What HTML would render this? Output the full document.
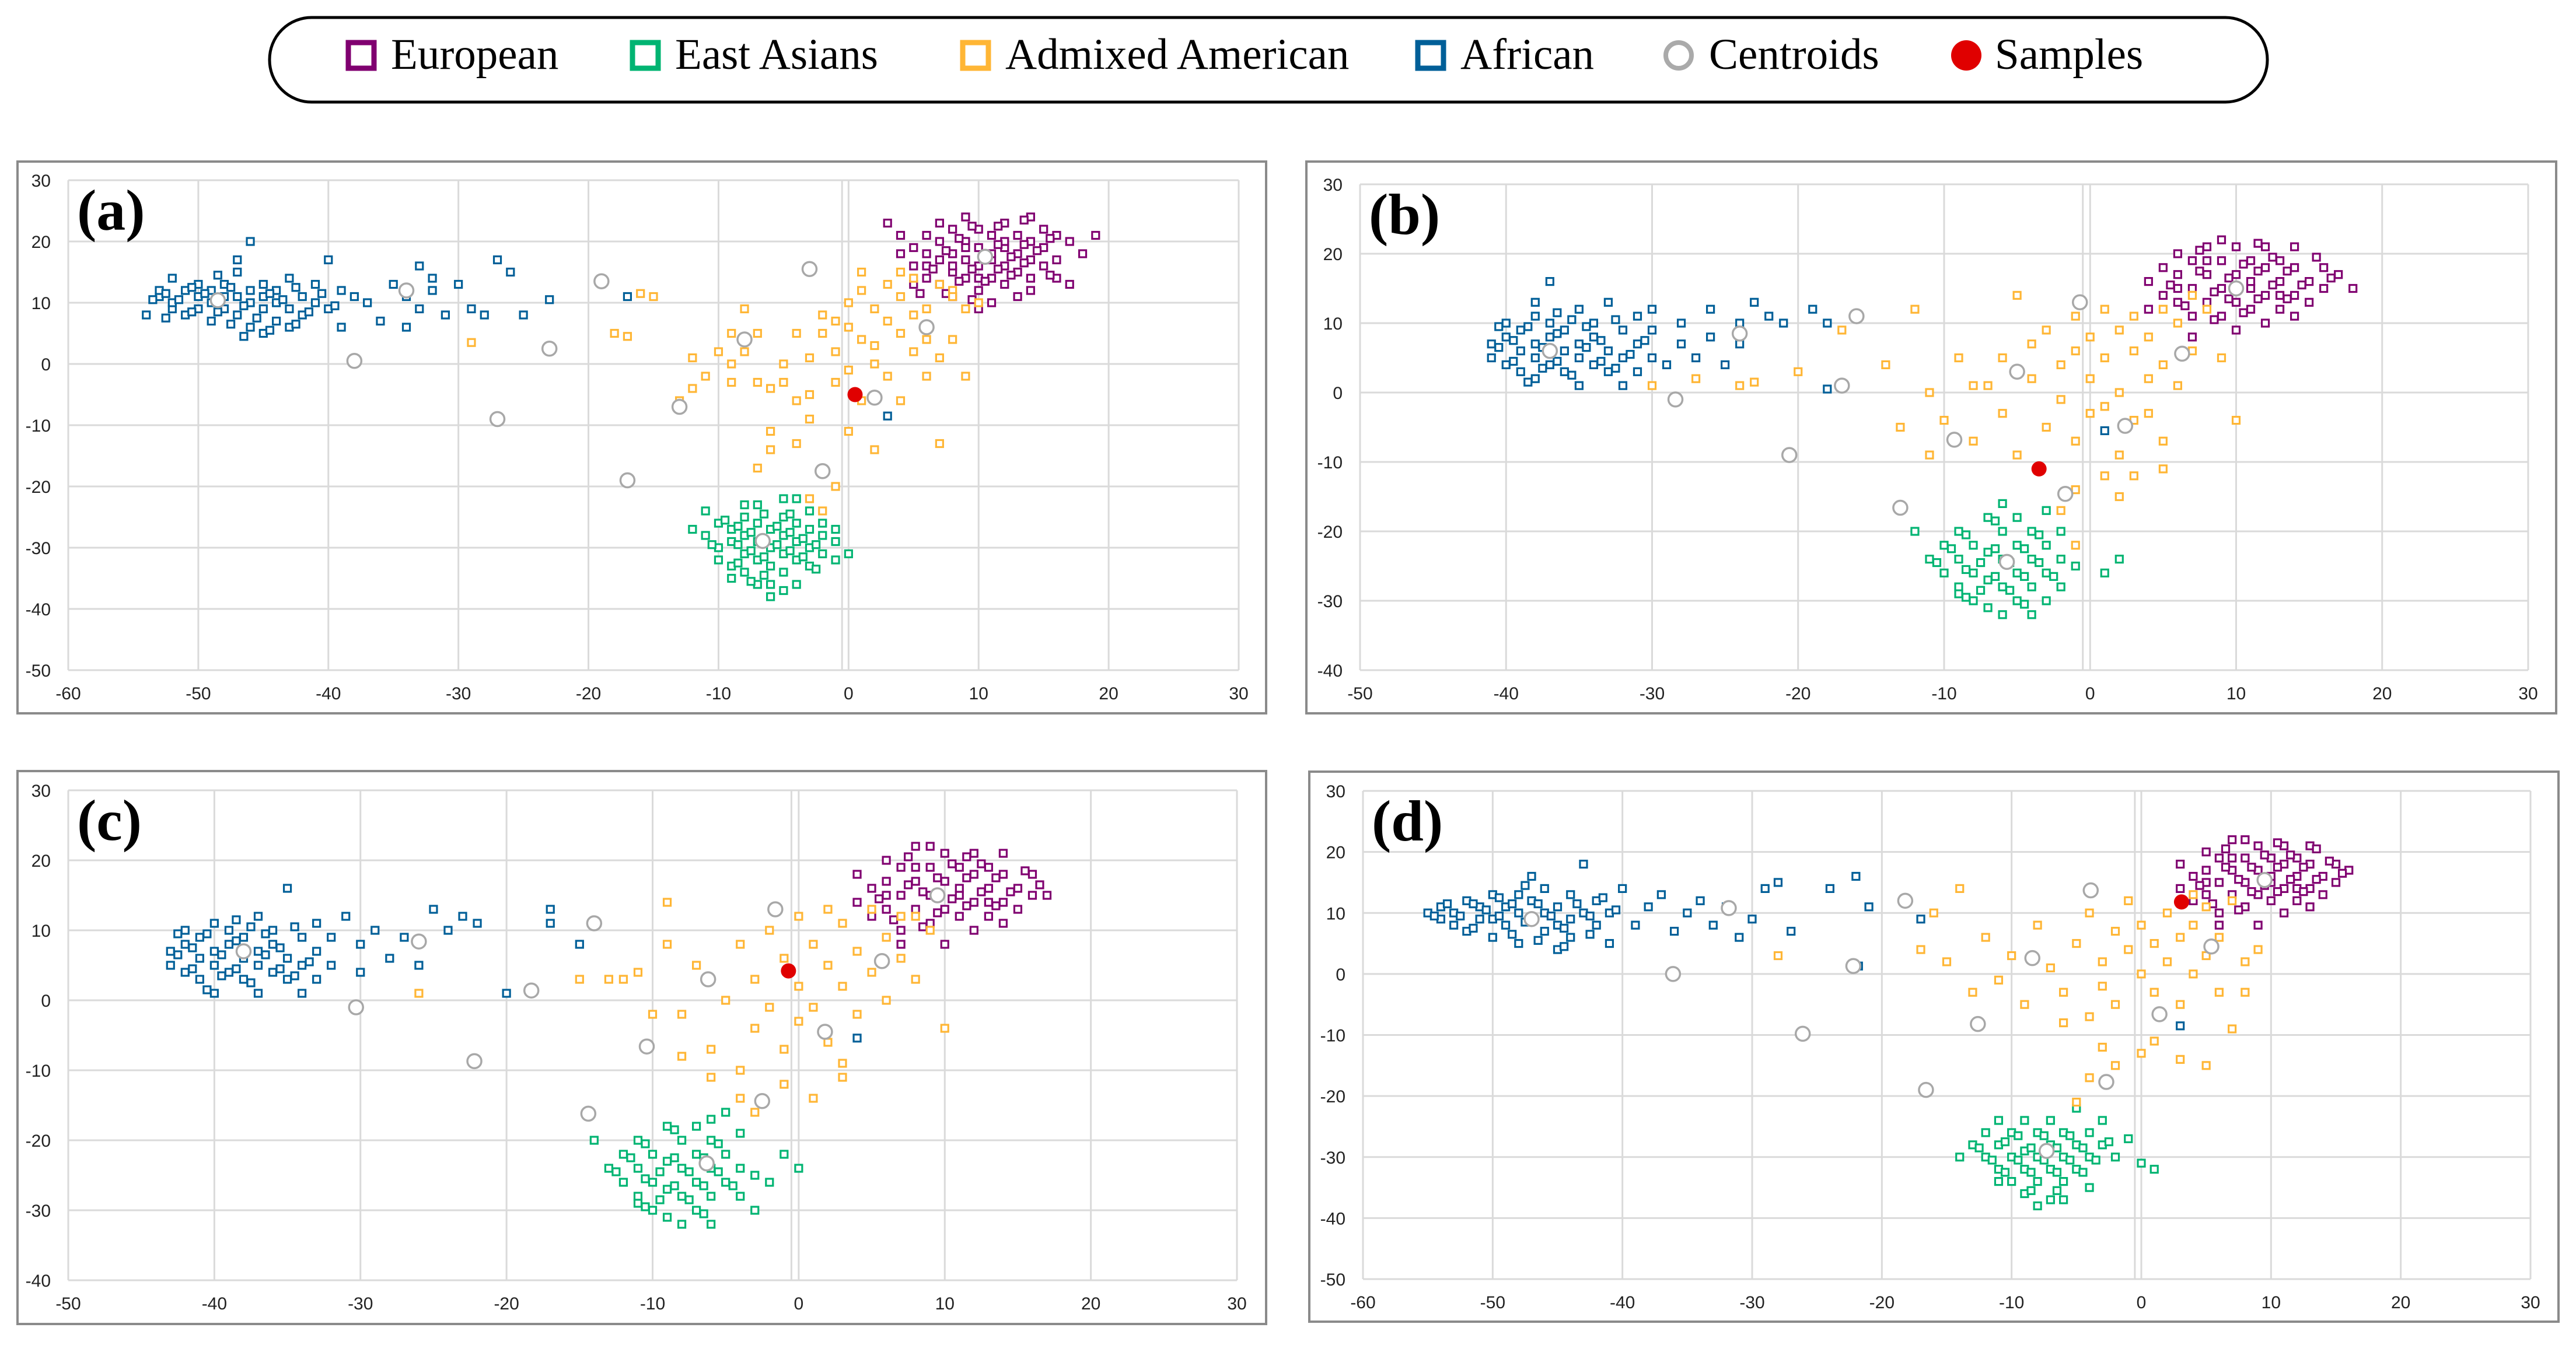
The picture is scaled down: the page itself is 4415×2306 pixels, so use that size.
<!DOCTYPE html>
<html><head><meta charset="utf-8">
<style>
html,body{margin:0;padding:0;background:#fff;}
svg{display:block;}
</style></head>
<body>
<svg id="fig" width="4415" height="2306" viewBox="0 0 4415 2306" xmlns="http://www.w3.org/2000/svg">
<g>
<rect x="462" y="30" width="3424" height="145" rx="72" ry="72" fill="#fff" stroke="#000" stroke-width="5"/>
<g><rect x="597" y="73" width="44" height="44" fill="none" stroke="#800070" stroke-width="9"/><text x="670" y="118" font-family="Liberation Serif, serif" font-size="75">European</text></g>
<g><rect x="1084" y="73" width="44" height="44" fill="none" stroke="#00B472" stroke-width="9"/><text x="1157" y="118" font-family="Liberation Serif, serif" font-size="75">East Asians</text></g>
<g><rect x="1650" y="73" width="44" height="44" fill="none" stroke="#FFB635" stroke-width="9"/><text x="1723" y="118" font-family="Liberation Serif, serif" font-size="75">Admixed American</text></g>
<g><rect x="2430" y="73" width="44" height="44" fill="none" stroke="#005F98" stroke-width="9"/><text x="2503" y="118" font-family="Liberation Serif, serif" font-size="75">African</text></g>
<g><circle cx="2877" cy="95" r="22" fill="#fff" stroke="#aaa" stroke-width="8"/><text x="2929" y="118" font-family="Liberation Serif, serif" font-size="75">Centroids</text></g>
<g><circle cx="3370" cy="95" r="26" fill="#E00000"/><text x="3419" y="118" font-family="Liberation Serif, serif" font-size="75">Samples</text></g>
</g>
</svg>
<script>
// ---------- Panel (a) data ----------
const aAfr=[[-54,8],[-53,11],[-53,12],[-52,9],[-52,10],[-52,14],[-51,12],[-51,8],[-50,11],[-50,9],[-50,13],[-49,10],[-49,12],[-49,7],[-48,11],[-48,9],[-48,13],[-47,8],[-47,11],[-47,15],[-47,17],[-46,10],[-46,12],[-46,6],[-46,20],[-45,9],[-45,11],[-45,13],[-45,5],[-44,10],[-44,7],[-44,12],[-43,9],[-43,14],[-43,6],[-42,11],[-42,8],[-41,10],[-41,13],[-40,9],[-40,17],[-39,12],[-39,6],[-38,11],[-37,10],[-36,7],[-35,13],[-34,11],[-34,6],[-33,16],[-33,9],[-32,14],[-32,12],[-31,8],[-30,13],[-29,9],[-28,8],[-27,17],[-26,15],[-25,8],[-23,10.5],[-17,11],[3,-8.5]];
const aAfr2=[[-53.5,10.5],[-52.5,11.5],[-51.5,10.5],[-50.5,8.5],[-49.5,11.5],[-48.5,8.5],[-47.5,12.5],[-46.5,9.5],[-45.5,7.5],[-44.5,11.5],[-43.5,10.5],[-42.5,12.5],[-41.5,8.5],[-50.5,12.5],[-48.5,14.5],[-46.5,4.5],[-44.5,5.5],[-42.5,6.5],[-40.5,11.5],[-39.5,9.5],[-47.5,6.5],[-52.5,7.5]];
const aEur=[[3,23],[4,21],[5,16],[5,19],[6,14],[6,18],[6,21],[7,13],[7,17],[7,20],[7,23],[8,15],[8,18],[8,22],[8,11],[9,14],[9,17],[9,20],[9,24],[10,12],[10,16],[10,19],[10,22],[11,14],[11,17],[11,21],[11,10],[12,13],[12,16],[12,19],[12,23],[13,15],[13,18],[13,21],[14,14],[14,17],[14,20],[14,24],[15,16],[15,19],[15,22],[16,17],[16,14],[17,20],[18,18],[19,21],[17,13],[13,11],[10,9],[5,13],[4,18],[12,20],[9,19],[11,18],[8,16],[10,14],[6,16],[14,12],[16,21]];
const aEur2=[[6.5,15.5],[7.5,18.5],[8.5,13.5],[8.5,20.5],[9.5,15.5],[9.5,22.5],[10.5,17.5],[10.5,13.5],[11.5,15.5],[11.5,19.5],[12.5,17.5],[12.5,14.5],[13.5,19.5],[13.5,16.5],[14.5,18.5],[15.5,14.5],[7.5,11.5],[9.5,10.5],[11.5,22.5],[13.5,23.5],[15.5,20.5],[5.5,11.5]];
const aEas=[[-11,-24],[-11,-28],[-10,-26],[-10,-30],[-10,-32],[-9,-27],[-9,-29],[-9,-33],[-8,-25],[-8,-28],[-8,-31],[-8,-34],[-7,-26],[-7,-29],[-7,-32],[-7,-36],[-7,-23],[-6,-27],[-6,-30],[-6,-33],[-6,-38],[-5,-25],[-5,-28],[-5,-31],[-5,-34],[-5,-22],[-4,-26],[-4,-29],[-4,-32],[-4,-36],[-3,-24],[-3,-27],[-3,-30],[-3,-33],[-2,-28],[-2,-31],[-1,-29],[-1,-32],[-2,-26],[-12,-27],[-9,-35],[-6,-36],[-4,-22],[0,-31],[-1,-27],[-8,-23],[-5,-37]];
const aEas2=[[-9.5,-25.5],[-8.5,-29.5],[-8.5,-26.5],[-7.5,-30.5],[-7.5,-27.5],[-6.5,-24.5],[-6.5,-31.5],[-5.5,-29.5],[-5.5,-26.5],[-4.5,-30.5],[-4.5,-27.5],[-3.5,-28.5],[-3.5,-31.5],[-2.5,-29.5],[-6.5,-34.5],[-8.5,-32.5],[-10.5,-29.5],[-4.5,-24.5],[-2.5,-33.5],[-7.5,-35.5]];
const aAdm=[[-29,3.5],[-18,5],[-17,4.5],[-16,11.5],[-15,11],[-12,1],[-8,9],[-8,2],[-9,0],[-7,-3],[-6,-4],[-5,-3],[-4,-6],[-3,-5],[-3,1],[-2,5],[-2,8],[-1,2],[-1,-3],[0,10],[0,6],[0,-1],[1,15],[1,12],[1,4],[1,-6],[2,9],[2,3],[3,13],[3,7],[3,-2],[4,11],[4,5],[4,-6],[5,14],[5,8],[5,2],[6,9],[6,-2],[7,13],[7,1],[8,12],[8,4],[9,9],[9,-2],[10,10],[7,-13],[-1,-20],[2,-14],[-3,-22],[-6,-11],[-4,-13],[-7,-17],[-6,-14],[-2,-24],[-11,-2],[-12,-4],[-10,2],[-9,5],[-4,5],[-5,0],[-1,7],[2,0],[6,4],[8,11],[4,15],[-7,5],[-9,-3],[-3,-9],[0,-11],[-13,-6]];
const aCen=[[-48.5,10.4],[-34,12],[-38,0.5],[-27,-9],[-23,2.5],[-19,13.5],[-17,-19],[-13,-7],[-8,4],[-3,15.5],[-2,-17.5],[2,-5.5],[6,6],[10.5,17.5],[-6.6,-28.9]];
const aSmp=[[0.5,-5]];
// ---------- Panel (b) data ----------
const bAfr=[[-41,5],[-41,7],[-40,4],[-40,8],[-40,10],[-39,3],[-39,6],[-39,9],[-38,5],[-38,7],[-38,11],[-38,2],[-37,4],[-37,8],[-37,10],[-36,6],[-36,3],[-36,9],[-35,5],[-35,7],[-35,1],[-35,12],[-34,4],[-34,8],[-34,10],[-33,6],[-33,3],[-33,13],[-32,5],[-32,9],[-32,1],[-31,7],[-31,11],[-31,3],[-30,9],[-30,5],[-30,12],[-29,4],[-28,7],[-28,10],[-27,5],[-26,8],[-26,12],[-25,4],[-24,10],[-24,7],[-23,13],[-22,11],[-21,10],[-19,12],[-18,10],[-18,0.5],[-16,11],[-37,16],[-38,13],[1,-5.5]];
const bAfr2=[[-40.5,6.5],[-39.5,7.5],[-39.5,4.5],[-38.5,9.5],[-37.5,6.5],[-37.5,3.5],[-36.5,8.5],[-36.5,4.5],[-35.5,10.5],[-35.5,2.5],[-34.5,6.5],[-34.5,9.5],[-33.5,4.5],[-33.5,7.5],[-32.5,10.5],[-32.5,3.5],[-31.5,5.5],[-38.5,1.5],[-36.5,11.5],[-40.5,9.5],[-30.5,7.5]];
const bEur=[[4,12],[4,16],[5,18],[5,14],[6,20],[6,13],[6,17],[7,15],[7,19],[7,11],[8,13],[8,17],[8,21],[9,15],[9,19],[9,11],[10,13],[10,17],[10,21],[10,9],[11,15],[11,19],[11,12],[12,14],[12,18],[12,21],[13,16],[13,12],[13,19],[14,14],[14,18],[14,21],[15,16],[15,13],[16,18],[16,15],[17,17],[18,15],[12,10],[9,22],[7,8],[11,16],[8,19],[13,14],[6,15],[14,11]];
const bEur2=[[5.5,15.5],[6.5,12.5],[7.5,17.5],[8.5,14.5],[8.5,10.5],[9.5,16.5],[9.5,13.5],[10.5,18.5],[10.5,11.5],[11.5,13.5],[11.5,17.5],[12.5,15.5],[12.5,19.5],[13.5,13.5],[13.5,17.5],[14.5,15.5],[15.5,19.5],[16.5,16.5],[7.5,20.5],[11.5,21.5]];
const bEas=[[-12,-20],[-11,-24],[-10,-22],[-10,-26],[-9,-20],[-9,-24],[-9,-28],[-8,-22],[-8,-26],[-8,-30],[-7,-18],[-7,-23],[-7,-27],[-7,-31],[-6,-20],[-6,-24],[-6,-28],[-5,-18],[-5,-22],[-5,-26],[-5,-30],[-4,-20],[-4,-24],[-4,-28],[-3,-22],[-3,-26],[-3,-17],[-2,-24],[-2,-28],[-2,-20],[-1,-25],[1,-26],[2,-24],[-6,-32],[-4,-32],[-9,-29],[-6,-16],[-3,-30]];
const bEas2=[[-9.5,-22.5],[-8.5,-25.5],[-8.5,-20.5],[-7.5,-24.5],[-7.5,-28.5],[-6.5,-22.5],[-6.5,-26.5],[-5.5,-24.5],[-5.5,-28.5],[-4.5,-22.5],[-4.5,-26.5],[-3.5,-24.5],[-3.5,-20.5],[-2.5,-26.5],[-6.5,-18.5],[-8.5,-29.5],[-4.5,-30.5],[-10.5,-24.5]];
const bAdm=[[-30,1],[-27,2],[-24,1],[-23,1.5],[-20,3],[-17,9],[-14,4],[-12,12],[-11,0],[-10,-4],[-9,5],[-8,-7],[-7,1],[-6,-3],[-5,-9],[-4,7],[-4,2],[-3,-5],[-3,9],[-2,4],[-2,-1],[-1,11],[-1,6],[-1,-7],[0,2],[0,-3],[0,8],[1,12],[1,5],[1,-2],[2,9],[2,0],[2,-9],[3,6],[3,-4],[3,11],[4,2],[4,8],[4,-3],[5,12],[5,4],[5,-7],[6,10],[6,1],[7,14],[7,6],[8,12],[9,5],[10,-4],[-1,-14],[1,-12],[3,-12],[5,-11],[-2,-17],[-1,-22],[2,-15],[-8,1],[-6,5],[-11,-9],[-13,-5],[-5,14]];
const bCen=[[-37,6],[-24,8.5],[-28.4,-1],[-17,1],[-16,11],[-20.6,-9],[-13,-16.6],[-9.3,-6.8],[-5,3],[-0.7,13],[-1.7,-14.6],[2.4,-4.8],[6.3,5.6],[10,15],[-5.7,-24.4]];
const bSmp=[[-3.5,-11]];
// ---------- Panel (c) data ----------
const cAfr=[[-43,5],[-43,7],[-42,4],[-42,8],[-42,10],[-41,3],[-41,6],[-41,9],[-40,5],[-40,7],[-40,11],[-40,1],[-39,4],[-39,8],[-39,10],[-38,6],[-38,3],[-38,9],[-37,5],[-37,7],[-37,1],[-37,12],[-36,4],[-36,8],[-36,10],[-35,6],[-35,3],[-35,16],[-34,5],[-34,9],[-34,1],[-33,7],[-33,11],[-33,3],[-32,9],[-32,5],[-31,12],[-30,4],[-30,8],[-29,10],[-28,6],[-27,9],[-26,5],[-25,13],[-24,10],[-23,12],[-22,11],[-20,1],[-17,11],[-17,13],[-15,8],[4,-5.4]];
const cAfr2=[[-42.5,6.5],[-41.5,7.5],[-41.5,4.5],[-40.5,9.5],[-39.5,6.5],[-39.5,3.5],[-38.5,8.5],[-38.5,4.5],[-37.5,10.5],[-37.5,2.5],[-36.5,6.5],[-36.5,9.5],[-35.5,4.5],[-35.5,7.5],[-34.5,10.5],[-34.5,3.5],[-33.5,5.5],[-40.5,1.5],[-38.5,11.5],[-42.5,9.5]];
const cEur=[[4,14],[4,18],[5,16],[5,12],[6,20],[6,13],[6,17],[7,15],[7,19],[7,10],[8,13],[8,17],[8,22],[9,15],[9,19],[9,11],[10,13],[10,17],[10,21],[10,8],[11,15],[11,19],[11,12],[12,14],[12,18],[12,21],[13,16],[13,12],[13,19],[14,14],[14,18],[14,21],[15,16],[15,13],[16,18],[16,15],[17,15],[12,10],[9,22],[7,8],[11,16],[8,19],[13,14],[6,15],[14,11]];
const cEur2=[[5.5,14.5],[6.5,11.5],[7.5,16.5],[8.5,15.5],[8.5,10.5],[9.5,17.5],[9.5,12.5],[10.5,19.5],[10.5,14.5],[11.5,13.5],[11.5,17.5],[12.5,15.5],[12.5,19.5],[13.5,13.5],[13.5,17.5],[14.5,15.5],[15.5,18.5],[16.5,16.5],[7.5,20.5],[11.5,20.5]];
const cEas=[[-14,-20],[-13,-24],[-12,-22],[-12,-26],[-11,-20],[-11,-24],[-11,-28],[-10,-22],[-10,-26],[-10,-30],[-9,-18],[-9,-23],[-9,-27],[-9,-31],[-8,-20],[-8,-24],[-8,-28],[-7,-18],[-7,-22],[-7,-26],[-7,-30],[-6,-20],[-6,-24],[-6,-28],[-5,-22],[-5,-26],[-5,-16],[-4,-24],[-4,-28],[-4,-19],[-3,-25],[-2,-26],[0,-24],[-8,-32],[-6,-32],[-11,-29],[-6,-17],[-3,-30],[-1,-22]];
const cEas2=[[-11.5,-22.5],[-10.5,-25.5],[-10.5,-20.5],[-9.5,-24.5],[-9.5,-28.5],[-8.5,-22.5],[-8.5,-26.5],[-7.5,-24.5],[-7.5,-28.5],[-6.5,-22.5],[-6.5,-26.5],[-5.5,-24.5],[-5.5,-20.5],[-4.5,-26.5],[-8.5,-18.5],[-10.5,-29.5],[-6.5,-30.5],[-12.5,-24.5]];
const cAdm=[[-26,1],[-15,3],[-13,3],[-12,3],[-9,8],[-9,14],[-8,-2],[-7,5],[-6,-7],[-5,0],[-4,-10],[-4,8],[-3,3],[-3,-4],[-2,10],[-2,-1],[-1,6],[-1,-7],[0,2],[0,-3],[0,12],[1,8],[1,-1],[2,5],[2,-6],[3,11],[3,2],[3,-9],[4,7],[4,-2],[5,13],[5,4],[6,9],[6,0],[7,12],[7,6],[8,3],[9,10],[10,-4],[-1,-12],[1,-14],[3,-11],[-4,-14],[-6,-11],[-8,-8],[-10,-2],[-11,4],[-3,-16],[8,12],[2,13]];
const cCen=[[-38,7],[-26,8.4],[-30.3,-1],[-22.2,-8.7],[-18.3,1.4],[-14,11],[-14.4,-16.2],[-10.4,-6.6],[-6.2,3],[-1.6,13],[-2.5,-14.4],[1.8,-4.5],[5.7,5.6],[9.5,15],[-6.3,-23.3]];
const cSmp=[[-0.7,4.2]];
// ---------- Panel (d) data ----------
const dAfr=[[-55,10],[-54,9],[-54,11],[-53,8],[-53,10],[-52,12],[-52,7],[-51,9],[-51,11],[-50,13],[-50,6],[-50,9],[-49,11],[-49,8],[-48,10],[-48,13],[-48,5],[-47,9],[-47,12],[-47,16],[-46,7],[-46,10],[-46,14],[-45,8],[-45,11],[-45,4],[-44,9],[-44,13],[-44,6],[-43,10],[-43,18],[-42,8],[-42,12],[-41,5],[-41,10],[-40,14],[-39,8],[-38,11],[-37,13],[-36,7],[-35,10],[-34,12],[-33,8],[-32,11],[-31,6],[-30,9],[-29,14],[-28,15],[-27,7],[-24,14],[-22,16],[-21,11],[-21.8,1.3],[-17,9],[3,-8.5]];
const dAfr2=[[-54.5,9.5],[-53.5,11.5],[-52.5,9.5],[-51.5,7.5],[-50.5,10.5],[-49.5,9.5],[-48.5,11.5],[-47.5,8.5],[-46.5,11.5],[-45.5,9.5],[-44.5,7.5],[-43.5,11.5],[-42.5,9.5],[-41.5,12.5],[-49.5,12.5],[-47.5,14.5],[-46.5,5.5],[-44.5,4.5],[-42.5,6.5],[-40.5,10.5],[-51.5,11.5],[-48.5,6.5]];
const dEur=[[3,14],[3,18],[4,16],[4,12],[5,20],[5,13],[5,17],[6,15],[6,19],[6,10],[7,13],[7,17],[7,22],[8,15],[8,19],[8,11],[9,13],[9,17],[9,21],[9,8],[10,15],[10,19],[10,12],[11,14],[11,18],[11,21],[12,16],[12,12],[12,19],[13,14],[13,18],[13,21],[14,16],[14,13],[15,18],[15,15],[16,17],[11,10],[8,22],[6,8],[10,16],[7,19],[12,14],[5,15],[13,11]];
const dEur2=[[4.5,14.5],[5.5,11.5],[6.5,17.5],[7.5,15.5],[7.5,10.5],[8.5,17.5],[8.5,13.5],[9.5,19.5],[9.5,14.5],[10.5,13.5],[10.5,17.5],[11.5,15.5],[11.5,19.5],[12.5,13.5],[12.5,17.5],[13.5,15.5],[14.5,18.5],[15.5,16.5],[6.5,20.5],[10.5,21.5],[13.5,20.5]];
const dEas=[[-14,-30],[-13,-28],[-12,-26],[-12,-30],[-11,-28],[-11,-32],[-11,-34],[-10,-26],[-10,-30],[-10,-34],[-9,-24],[-9,-29],[-9,-32],[-9,-36],[-8,-26],[-8,-30],[-8,-34],[-7,-24],[-7,-28],[-7,-32],[-7,-37],[-6,-26],[-6,-30],[-6,-34],[-5,-28],[-5,-32],[-5,-22],[-4,-26],[-4,-30],[-4,-35],[-3,-28],[-2,-30],[0,-31],[1,-32],[-8,-38],[-6,-37],[-11,-24],[-3,-24],[-1,-27]];
const dEas2=[[-12.5,-28.5],[-11.5,-30.5],[-10.5,-27.5],[-10.5,-32.5],[-9.5,-30.5],[-9.5,-26.5],[-8.5,-28.5],[-8.5,-32.5],[-7.5,-30.5],[-7.5,-26.5],[-6.5,-28.5],[-6.5,-32.5],[-5.5,-30.5],[-5.5,-26.5],[-4.5,-28.5],[-4.5,-32.5],[-3.5,-30.5],[-2.5,-27.5],[-8.5,-35.5],[-6.5,-35.5]];
const dAdm=[[-28,3],[-17,4],[-16,10],[-14,14],[-12,6],[-11,-1],[-10,3],[-9,-5],[-8,8],[-7,1],[-6,-3],[-5,5],[-4,-7],[-4,10],[-3,2],[-3,-2],[-2,7],[-2,-5],[-1,4],[-1,12],[0,0],[0,8],[1,5],[1,-3],[2,10],[2,2],[3,6],[3,-5],[4,8],[4,0],[5,11],[5,3],[6,6],[6,-3],[7,12],[8,2],[8,-3],[7,-9],[-3,-12],[-2,-15],[0,-13],[1,-11],[3,-14],[5,-15],[-4,-17],[-5,-21],[-6,-8],[-13,-3],[-15,2],[4,13],[9,4]];
const dCen=[[-47,9],[-36.1,0],[-31.8,10.8],[-26.1,-9.8],[-22.2,1.3],[-18.2,12],[-16.6,-19],[-12.6,-8.2],[-8.4,2.6],[-3.9,13.7],[-2.7,-17.7],[1.4,-6.6],[5.4,4.5],[9.5,15.4],[-7.3,-29]];
const dSmp=[[3.1,11.8]];

const xTicksAD=[-60,-50,-40,-30,-20,-10,0,10,20,30];
const xTicksBC=[-50,-40,-30,-20,-10,0,10,20,30];
const yTicksAD=[30,20,10,0,-10,-20,-30,-40,-50];
const yTicksBC=[30,20,10,0,-10,-20,-30,-40];

const COL={eur:'#800070',eas:'#00B472',adm:'#FFB635',afr:'#005F98'};
const NS='http://www.w3.org/2000/svg';
const svg=document.getElementById('fig');
function mk(tag,attrs,parent){const e=document.createElementNS(NS,tag);for(const k in attrs)e.setAttribute(k,attrs[k]);parent.appendChild(e);return e;}

const panels=[
 {id:'a',box:[30,277,2140,946],plot:[117,309,2123,1149],xr:[-60,30],yr:[-50,30],xt:xTicksAD,yt:yTicksAD,afr:aAfr.concat(aAfr2),eur:aEur.concat(aEur2),eas:aEas.concat(aEas2),adm:aAdm,cen:aCen,smp:aSmp},
 {id:'b',box:[2239,277,2142,946],plot:[2331,316,4333,1149],xr:[-50,30],yr:[-40,30],xt:xTicksBC,yt:yTicksBC,afr:bAfr.concat(bAfr2),eur:bEur.concat(bEur2),eas:bEas.concat(bEas2),adm:bAdm,cen:bCen,smp:bSmp},
 {id:'c',box:[30,1322,2140,948],plot:[117,1355,2120,2195],xr:[-50,30],yr:[-40,30],xt:xTicksBC,yt:yTicksBC,afr:cAfr.concat(cAfr2),eur:cEur.concat(cEur2),eas:cEas.concat(cEas2),adm:cAdm,cen:cCen,smp:cSmp},
 {id:'d',box:[2244,1323,2141,943],plot:[2336,1356,4337,2193],xr:[-60,30],yr:[-50,30],xt:xTicksAD,yt:yTicksAD,afr:dAfr.concat(dAfr2),eur:dEur.concat(dEur2),eas:dEas.concat(dEas2),adm:dAdm,cen:dCen,smp:dSmp}
];

panels.forEach(p=>{
 const g=mk('g',{},svg);
 
 
 const [L,T,R,B]=p.plot;
 const sx=v=>L+(v-p.xr[0])/(p.xr[1]-p.xr[0])*(R-L);
 const sy=v=>B-(v-p.yr[0])/(p.yr[1]-p.yr[0])*(B-T);
 const fr=mk('rect',{x:p.box[0],y:p.box[1],width:p.box[2],height:p.box[3],fill:'#fff',stroke:'#8a8a8a','stroke-width':4},g);
 
 
 p.xt.forEach(v=>{
  const ln=mk('line',{x1:sx(v),x2:sx(v),y1:T,y2:B,stroke:'#dadada','stroke-width':3},g);
  
  
  const t=mk('text',{x:sx(v),y:B+50,'text-anchor':'middle','font-family':'Liberation Sans, sans-serif','font-size':30,fill:'#222'},g);
  t.textContent=v;
  
  
 });
 p.yt.forEach(v=>{
  const ln=mk('line',{x1:L,x2:R,y1:sy(v),y2:sy(v),stroke:'#dadada','stroke-width':3},g);
  
  
  const t=mk('text',{x:L-30,y:sy(v)+11,'text-anchor':'end','font-family':'Liberation Sans, sans-serif','font-size':30,fill:'#222'},g);
  t.textContent=v;
  
  
 });
 const ax=mk('line',{x1:sx(-0.5),x2:sx(-0.5),y1:T,y2:B,stroke:'#dadada','stroke-width':3},g);
 
 
 const lab=mk('text',{x:L+15,y:T+85,'font-family':'Liberation Serif, serif','font-size':100,'font-weight':'bold',fill:'#000'},g);
 lab.textContent='('+p.id+')';
 
 
 const drawSq=(arr,key)=>{arr.forEach(d=>{
  const r=mk('rect',{x:sx(d[0])-6,y:sy(d[1])-6,width:12,height:12,fill:'#fff',stroke:COL[key],'stroke-width':3.2},g);
  
  
 });};
 drawSq(p.eur,'eur');drawSq(p.eas,'eas');drawSq(p.afr,'afr');drawSq(p.adm,'adm');
 p.cen.forEach(d=>{
  const c=mk('circle',{cx:sx(d[0]),cy:sy(d[1]),r:12,fill:'#fff',stroke:'#a8a8a8','stroke-width':3.5},g);
  
  
 });
 p.smp.forEach(d=>{
  const c=mk('circle',{cx:sx(d[0]),cy:sy(d[1]),r:13,fill:'#E00000'},g);
  
  
 });
});
</script>
</body></html>
